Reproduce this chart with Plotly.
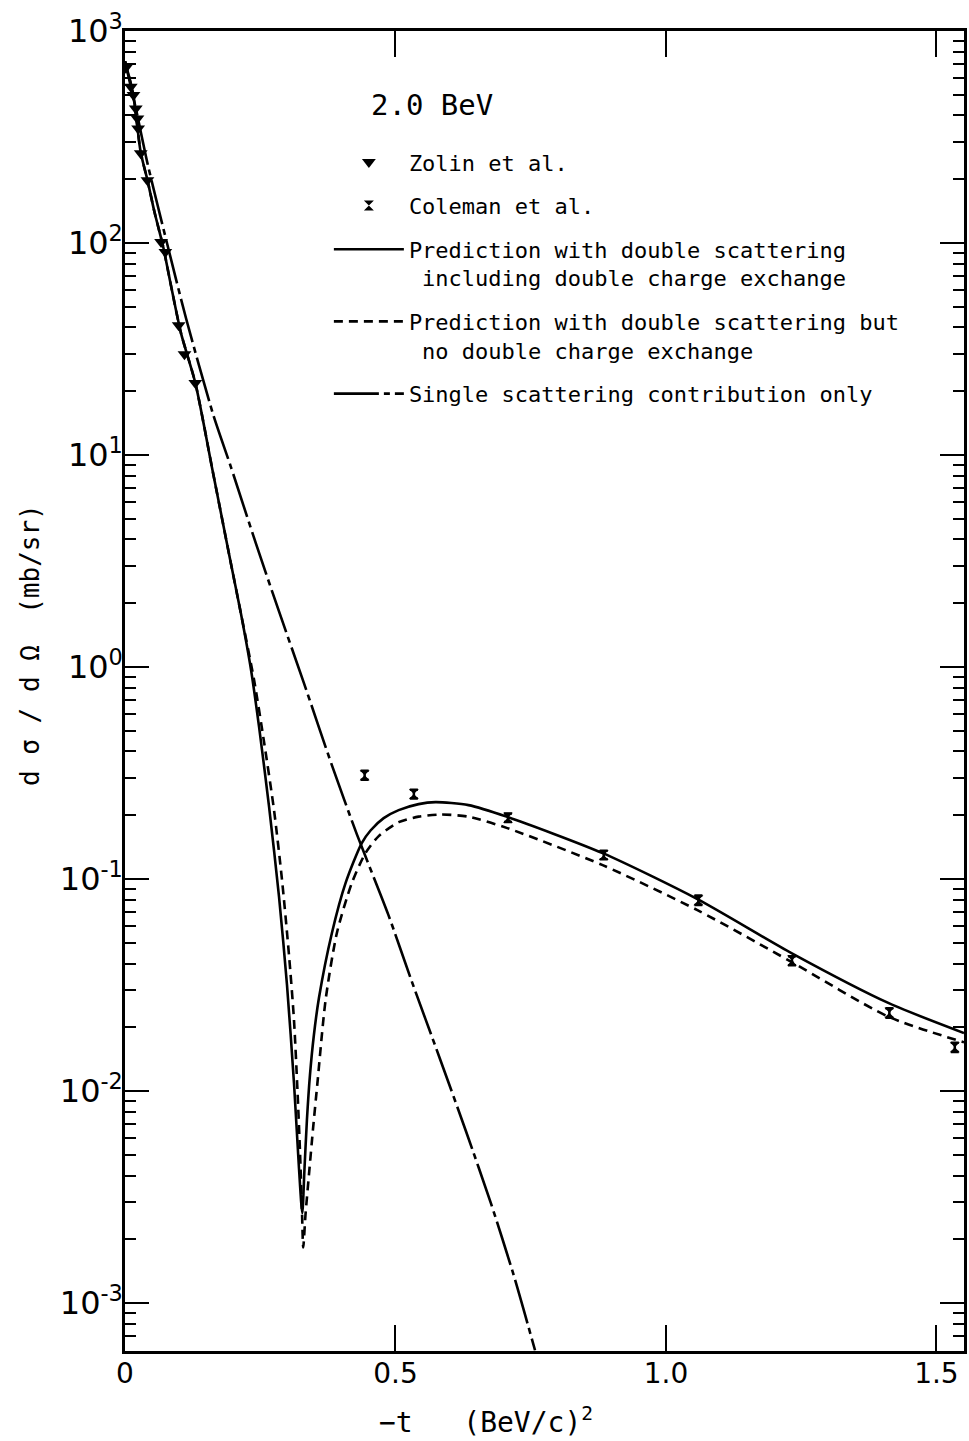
import plotly.graph_objects as go

# ---- data ----
zolin_t = [0.0015, 0.0107, 0.0157, 0.0199, 0.023, 0.0243, 0.0291, 0.0415, 0.0667, 0.0746, 0.0992, 0.110, 0.130]
zolin_sigma = [671, 546, 499, 431, 387, 347, 265, 198, 101, 90.8, 40.9, 29.9, 21.9]

coleman_t = [0.443, 0.534, 0.708, 0.885, 1.060, 1.233, 1.413, 1.534]
coleman_sigma = [0.309, 0.252, 0.195, 0.130, 0.0796, 0.0413, 0.0234, 0.0161]
coleman_err = [0.015, 0.012, 0.009, 0.006, 0.004, 0.002, 0.0012, 0.0008]

dcx_t = [0, 0.015, 0.029, 0.0415, 0.0545, 0.0706, 0.085, 0.1036, 0.130, 0.1618, 0.180, 0.1957,
         0.2142, 0.2331, 0.2479, 0.2664, 0.2848, 0.2995, 0.3124, 0.3216, 0.3277, 0.3317, 0.3363,
         0.3419, 0.3492, 0.3585, 0.3824, 0.4077, 0.4377, 0.4543, 0.4782, 0.5059, 0.5428, 0.5741,
         0.6349, 0.7068, 0.883, 1.0582, 1.232, 1.412, 1.551]
dcx_sigma = [720, 505, 268, 198, 140, 96, 63, 37.5, 21.9, 8.48, 4.93, 3.09,
             1.795, 0.967, 0.521, 0.2185, 0.0823, 0.0316, 0.01092, 0.00434, 0.00266, 0.00425, 0.00731,
             0.0119, 0.0184, 0.0275, 0.0556, 0.0958, 0.148, 0.170, 0.1939, 0.2115, 0.2258, 0.2307,
             0.2234, 0.1966, 0.1326, 0.0805, 0.0448, 0.026, 0.0188]

nodcx_t = [0, 0.015, 0.029, 0.0415, 0.0545, 0.0706, 0.085, 0.1036, 0.130, 0.1618, 0.180, 0.1957,
           0.2142, 0.2387, 0.2571, 0.2755, 0.2903, 0.3032, 0.3124, 0.3188, 0.3234, 0.3271, 0.3295,
           0.3336, 0.340, 0.3474, 0.3557, 0.3708, 0.3916, 0.4193, 0.4445, 0.469, 0.5059, 0.5428,
           0.5829, 0.6349, 0.7068, 0.883, 1.0582, 1.232, 1.412, 1.551]
nodcx_sigma = [720, 505, 268, 198, 140, 96, 63, 37.5, 21.9, 8.48, 4.93, 3.09,
               1.795, 0.867, 0.4425, 0.2115, 0.0989, 0.0438, 0.02164, 0.01012, 0.00528, 0.00275, 0.00183,
               0.0026, 0.00402, 0.00656, 0.0109, 0.0269, 0.0556, 0.0958, 0.1326, 0.1596, 0.1856, 0.1971,
               0.2016, 0.1971, 0.174, 0.1164, 0.0714, 0.0407, 0.0224, 0.0170]

single_t = [0, 0.021, 0.042, 0.0759, 0.1128, 0.1631, 0.1957, 0.2418, 0.2847, 0.3308, 0.3824,
            0.4285, 0.4867, 0.530, 0.581, 0.631, 0.677, 0.718, 0.758]
single_sigma = [720, 420, 235, 104, 44.2, 15.5, 8.8, 3.84, 1.83, 0.84, 0.345,
                0.163, 0.068, 0.0330, 0.0145, 0.0064, 0.00293, 0.00137, 0.00060]

x_tickvals = [0, 0.5, 1.0, 1.5]
x_ticktext = ["0", "0.5", "1.0", "1.5"]
y_exponents = [-3, -2, -1, 0, 1, 2, 3]

FONT = "DejaVu Sans"
MONO = "DejaVu Sans Mono"
NB = "\u00a0"

fig = go.Figure()

fig.add_trace(go.Scatter(
    x=zolin_t, y=zolin_sigma, mode="markers", name="Zolin" + NB + "et" + NB + "al.",
    marker=dict(symbol="triangle-down", size=12, color="black"),
    legendgroup="a"))

fig.add_trace(go.Scatter(
    x=coleman_t, y=coleman_sigma, mode="markers", name="Coleman" + NB + "et" + NB + "al.",
    marker=dict(symbol="hourglass", size=10, color="black"),
    error_y=dict(type="data", array=coleman_err, visible=True, color="black", thickness=2.5, width=4),
    legendgroup="b"))

fig.add_trace(go.Scatter(
    x=dcx_t, y=dcx_sigma, mode="lines",
    name="Prediction with double scattering<br>" + NB + "including double charge exchange",
    line=dict(color="black", width=2.6, shape="spline", smoothing=0.7),
    legendgroup="c"))

fig.add_trace(go.Scatter(
    x=nodcx_t, y=nodcx_sigma, mode="lines",
    name="Prediction with double scattering but<br>" + NB + "no double charge exchange",
    line=dict(color="black", width=2.6, dash="9px,6px", shape="spline", smoothing=0.7),
    legendgroup="d"))

fig.add_trace(go.Scatter(
    x=single_t, y=single_sigma, mode="lines",
    name="Single scattering contribution only",
    line=dict(color="black", width=2.6, dash="45px,5px,6px,5px", shape="spline", smoothing=0.7),
    legendgroup="e"))

minor_vals = [m * 10.0 ** e for e in range(-4, 3) for m in range(2, 10)]

fig.update_layout(
    width=969, height=1441,
    margin=dict(l=125, r=2, t=31, b=90),
    paper_bgcolor="white", plot_bgcolor="white",
    font=dict(family=FONT, color="black", size=22),
    showlegend=True,
    legend=dict(x=0.243, y=0.9165, xanchor="left", yanchor="top",
                bgcolor="rgba(0,0,0,0)", font=dict(family=MONO, size=22, color="black"),
                itemwidth=70, tracegroupgap=12, valign="top"),
    xaxis=dict(range=[0, 1.551], tickmode="array", tickvals=x_tickvals, ticktext=x_ticktext,
               ticks="inside", ticklen=26, tickwidth=2, tickcolor="black",
               showline=True, linewidth=2.5, linecolor="black", mirror="ticks",
               showgrid=False, zeroline=False, tickfont=dict(size=28, family=FONT),
               ticklabelstandoff=-4),
    yaxis=dict(type="log", range=[-3.2255, 3], tickmode="array",
               tickvals=[10.0 ** e for e in y_exponents],
               ticktext=["10<sup>%d</sup>" % e for e in y_exponents],
               ticks="inside", ticklen=24, tickwidth=2, tickcolor="black",
               minor=dict(tickmode="array", tickvals=minor_vals, ticks="inside", ticklen=11,
                          tickwidth=2, tickcolor="black", showgrid=False),
               showline=True, linewidth=2.5, linecolor="black", mirror="ticks",
               showgrid=False, zeroline=False, tickfont=dict(size=32, family=FONT),
               ticklabelstandoff=-7),
)

fig.add_annotation(x=0.2906, y=0.944, xref="paper", yref="paper", xanchor="left", yanchor="middle",
                   text="2.0" + NB + "BeV", showarrow=False, font=dict(size=29, family=MONO))
fig.add_annotation(x=-0.113, y=0.535, xref="paper", yref="paper", xanchor="center", yanchor="middle",
                   text="d" + NB + "σ" + NB + "/" + NB + "d" + NB + "Ω" + NB * 2 + "(mb/sr)",
                   textangle=-90, showarrow=False, font=dict(size=26, family=MONO))
fig.add_annotation(x=0.300, y=-0.0523, xref="paper", yref="paper", xanchor="left", yanchor="middle",
                   text="−t" + NB * 3 + "(BeV/c)<sup>2</sup>", showarrow=False,
                   font=dict(size=28, family=MONO))

fig.write_html("out.html", config={"displayModeBar": False},
               post_script="document.body.style.margin='0px';document.body.style.overflow='hidden';")
